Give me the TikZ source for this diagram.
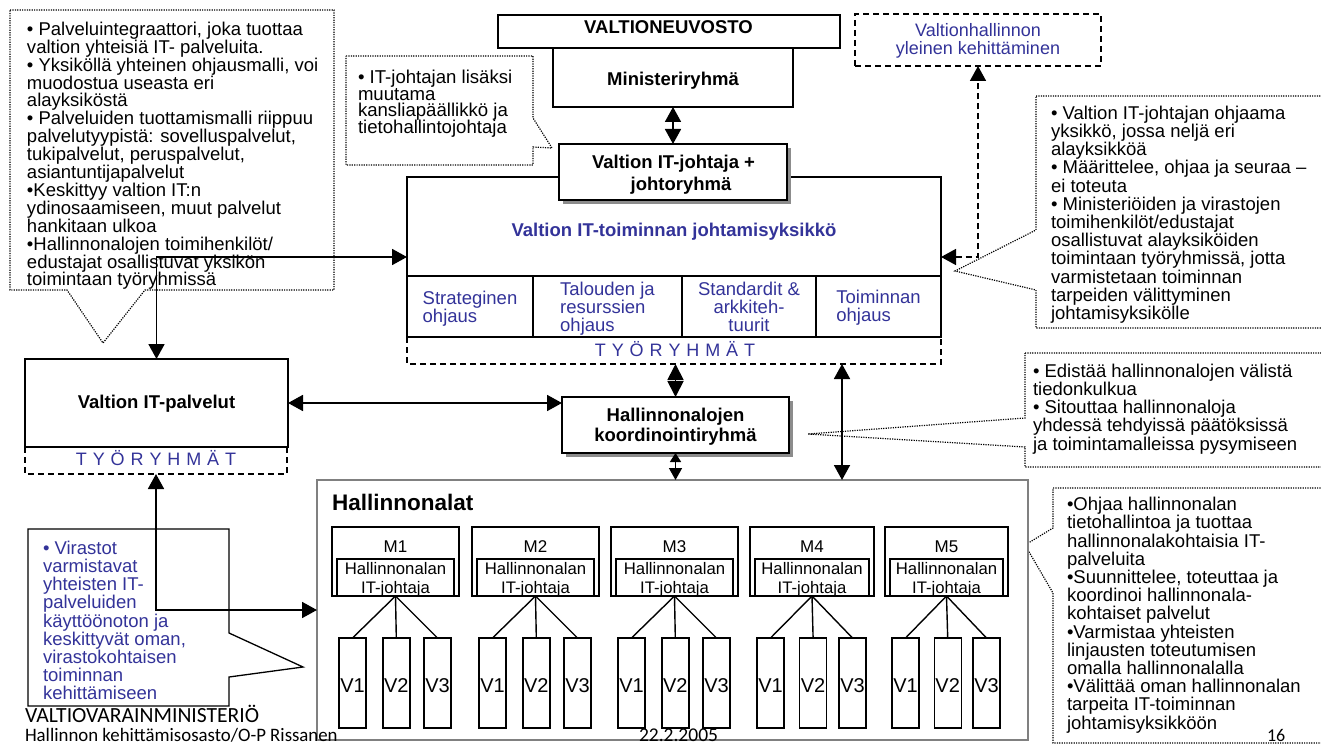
\documentclass[tikz,border=0pt]{standalone}
\usepackage{fontspec}
\setmainfont{Liberation Sans}
\newfontfamily\footfont{Carlito}
\newfontfamily\footfontn{Carlito}[FakeStretch=0.99]
\usetikzlibrary{arrows.meta,shadows,calc}
\definecolor{tblue}{RGB}{51,51,153}
\definecolor{hgray}{RGB}{128,128,128}
\newcommand\fsz[2]{\fontsize{#1}{#2}\selectfont\lineskiplimit=-100pt\lineskip=0pt}
\newcommand\tp{\rule{0pt}{14pt}}
\newcommand\tyo{T\hspace{5.9pt}Y\hspace{5.9pt}Ö\hspace{5.9pt}R\hspace{5.9pt}Y\hspace{5.9pt}H\hspace{5.9pt}M\hspace{5.9pt}Ä\hspace{5.9pt}T}
\begin{document}
\begin{tikzpicture}[x=1pt,y=-1pt,
  box/.style={draw, line width=2pt, fill=white, inner sep=0pt, outer sep=0pt, anchor=north west},
  txt/.style={inner sep=0pt, outer sep=0pt},
  bul/.style={txt, anchor=north west, align=left, font=\fsz{18.5}{18.2}},
  dot/.style={line width=1.2pt, dash pattern=on 1.2pt off 1.2pt, fill=white},
  dsh/.style={line width=1.6pt, dash pattern=on 6pt off 4pt},
  darr/.style={line width=1.8pt, {Triangle[length=15pt,width=16pt]}-{Triangle[length=15pt,width=16pt]}},
  shd/.style={drop shadow={shadow xshift=4pt, shadow yshift=-4pt, fill=black!45, opacity=1}},
]
\useasboundingbox (0,0) rectangle (1321,746);
\clip (0,0) rectangle (1321,746);
\fill[white] (0,0) rectangle (1321,746);

% ---------- callouts ----------
\draw[dot] (10,10) -- (334,10) -- (334,290) -- (145,290) -- (103,343) -- (67,290) -- (10,290) -- cycle;
\node[bul, font=\fsz{18.5}{17.9}] (tltext) at (27,21.3) {\tp• Palveluintegraattori, joka tuottaa\\valtion yhteisiä IT- palveluita.\\• Yksiköllä yhteinen ohjausmalli, voi\\muodostua useasta eri\\alayksiköstä\\• Palveluiden tuottamismalli riippuu\\palvelutyypistä: sovelluspalvelut,\\tukipalvelut, peruspalvelut,\\asiantuntijapalvelut\\•Keskittyy valtion IT:n\\ydinosaamiseen, muut palvelut\\hankitaan ulkoa\\•Hallinnonalojen toimihenkilöt/\\edustajat osallistuvat yksikön\\toimintaan työryhmissä};

\draw[dot] (346,56) -- (533,56) -- (533,118) -- (552,148) -- (533,147) -- (533,165) -- (346,165) -- cycle;
\node[bul, font=\fsz{18.6}{16.6}] (ittext) at (358,69.5) {\rule{0pt}{14pt}• IT-johtajan lisäksi\\muutama\\kansliapäällikkö ja\\tietohallintojohtaja};

\draw[dot] (1036,96) -- (1330,96) -- (1330,328) -- (1036,328) -- (1036,290) -- (955,271) -- (1036,230) -- cycle;
\node[bul] (r1text) at (1051,105.3) {\tp• Valtion IT-johtajan ohjaama\\yksikkö, jossa neljä eri\\alayksikköä\\• Määrittelee, ohjaa ja seuraa –\\ei toteuta\\• Ministeriöiden ja virastojen\\toimihenkilöt/edustajat\\osallistuvat alayksiköiden\\toimintaan työryhmissä, jotta\\varmistetaan toiminnan\\tarpeiden välittyminen\\johtamisyksikölle};

\draw[dot] (1025,353) -- (1330,353) -- (1330,467) -- (1025,467) -- (1025,447) -- (808,434) -- (1025,418) -- cycle;
\node[bul] (r2text) at (1033,363.3) {\tp• Edistää hallinnonalojen välistä\\tiedonkulkua\\• Sitouttaa hallinnonaloja\\yhdessä tehdyissä päätöksissä\\ja toimintamalleissa pysymiseen};

\draw[dot] (1053,488) -- (1330,488) -- (1330,743) -- (1053,743) -- (1053,593) -- (1025,545) -- (1053,528) -- cycle;
\node[bul] (brtext) at (1067,496.7) {\tp•Ohjaa hallinnonalan\\tietohallintoa ja tuottaa\\hallinnonalakohtaisia IT-\\palveluita\\•Suunnittelee, toteuttaa ja\\koordinoi hallinnonala-\\kohtaiset palvelut\\•Varmistaa yhteisten\\linjausten toteutumisen\\omalla hallinnonalalla\\•Välittää oman hallinnonalan\\tarpeita IT-toiminnan\\johtamisyksikköön};

\draw[line width=1.3pt, fill=white] (28,529) -- (229,529) -- (229,633) -- (303,667) -- (229,677) -- (229,706) -- (28,706) -- cycle;
\node[bul, text=tblue] (bltext) at (43,540.3) {\tp• Virastot\\varmistavat\\yhteisten IT-\\palveluiden\\käyttöönoton ja\\keskittyvät oman,\\virastokohtaisen\\toiminnan\\kehittämiseen};

% ---------- top boxes ----------
\node[box, minimum width=342pt, minimum height=33pt] (vn) at (498,15) {};
\node[txt, anchor=base, font=\fsz{18.5}{20}\bfseries] (vnt) at (668.5,33.3) {VALTIONEUVOSTO};
\node[box, minimum width=240pt, minimum height=59pt] (min) at (553,48) {};
\node[txt, anchor=base, font=\fsz{18.5}{20}\bfseries] (mint) at (673,86) {Ministeriryhmä};

\node[box, dsh, minimum width=246pt, minimum height=52pt] (vh) at (855,14) {};
\node[txt, anchor=north, align=center, text=tblue, font=\fsz{18}{18.3}] (vht) at (978,22.7) {\tp Valtionhallinnon\\yleinen kehittäminen};

% ---------- main unit ----------
\node[box, line width=2.5pt, minimum width=534pt, minimum height=160pt] (main) at (407,177) {};
\node[box, minimum width=126pt, minimum height=61pt] (c1) at (407,276) {};
\node[box, minimum width=149pt, minimum height=61pt] (c2) at (533,276) {};
\node[box, minimum width=134pt, minimum height=61pt] (c3) at (682,276) {};
\node[box, minimum width=125pt, minimum height=61pt] (c4) at (816,276) {};
\node[txt, anchor=base, text=tblue, font=\fsz{18.5}{20}\bfseries] (mainT) at (674,236.5) {Valtion IT-toiminnan johtamisyksikkö};
\node[txt, anchor=north, align=left, text=tblue, font=\fsz{18.5}{18}] (c1t) at (470,290) {\tp Strateginen\\ohjaus};
\node[txt, anchor=north, align=left, text=tblue, font=\fsz{18.5}{18}] (c2t) at (607.5,281) {\tp Talouden ja\\resurssien\\ohjaus};
\node[txt, anchor=north, align=center, text=tblue, font=\fsz{18.5}{18}] (c3t) at (749,281) {\tp Standardit \&\\arkkiteh-\\tuurit};
\node[txt, anchor=north, align=left, text=tblue, font=\fsz{18.5}{18}] (c4t) at (878.5,289.5) {\tp Toiminnan\\ohjaus};

\node[txt, minimum width=534pt, minimum height=27pt, anchor=north west] (wg1) at (407,337) {};
\draw[dsh] (wg1.north west) -- (wg1.south west) -- (wg1.south east) -- (wg1.north east);
\node[txt, anchor=base, text=tblue, font=\fsz{18}{20}] (wg1t) at (675,356.7) {\tyo};

\node[box, shd, minimum width=228pt, minimum height=56pt] (itj) at (559,144) {};
\node[txt, anchor=north, align=center, font=\fsz{18.5}{22}\bfseries] (itjt) at (681,154.5) {\tp Valtion IT-johtaja +\rule{15pt}{0pt}\\johtoryhmä};

% ---------- IT-palvelut ----------
\node[box, line width=2.5pt, minimum width=263pt, minimum height=88pt] (itp) at (25,359) {};
\node[txt, anchor=base, font=\fsz{18.5}{20}\bfseries] (itpt) at (156.5,408) {Valtion IT-palvelut};
\node[txt, minimum width=262pt, minimum height=27pt, anchor=north west] (wg2) at (25,447) {};
\draw[dsh] (wg2.north west) -- (wg2.south west) -- (wg2.south east) -- (wg2.north east);
\node[txt, anchor=base, text=tblue, font=\fsz{18}{20}] (wg2t) at (156,465.7) {\tyo};

% ---------- koordinointiryhmä ----------
\node[box, shd, minimum width=227pt, minimum height=56pt] (koord) at (562,397) {};
\node[txt, anchor=north, align=center, font=\fsz{18.5}{19.5}\bfseries] (koordt) at (675.5,407.5) {\tp Hallinnonalojen\\koordinointiryhmä};

% ---------- Hallinnonalat ----------
\node[box, draw=hgray, line width=1.3pt, minimum width=711pt, minimum height=260pt] (hall) at (317,480) {};
\node[txt, anchor=base west, font=\fsz{22.5}{24}\bfseries] (hallt) at (332,510) {Hallinnonalat};

\foreach \i/\x/\w in {1/332/127,2/472/127,3/611/127,4/750/124,5/885/123}{
  \node[box, line width=1.4pt, minimum width=\w pt, minimum height=69pt] (m\i) at (\x,527) {};
  \node[txt, anchor=base, font=\fsz{17}{19}] (ml\i) at (\x+\w/2,552.3) {M\i};
  \node[box, line width=1.4pt, minimum width=\w pt-10pt, minimum height=37pt] (mi\i) at (\x+5,559) {};
  \node[txt, anchor=north, align=center, font=\fsz{16.7}{19}] (mt\i) at (\x+\w/2,561.3) {\rule{0pt}{13pt}Hallinnonalan\\IT-johtaja};
  \foreach \j/\o in {1/7,2/0.4*\w,3/\w-35}{
    \node[box, line width=1.4pt, minimum width=27pt, minimum height=90pt] (v\i\j) at (\x+\o,638) {};
    \node[txt, anchor=base, font=\fsz{20}{20}] (vt\i\j) at (\x+\o+13.5,692) {V\j};
    \draw[line width=1.4pt] (mi\i.south) -- (v\i\j.north);
  }
}

% ---------- connectors ----------
\draw[darr] (min.south) -- (itj.north);
\draw[darr] (itp.north) |- (main.west);
\draw[darr] (itp.east) -- (itp.east -| koord.west);
\draw[darr, dsh] (main.east) -| (vh.south);
\draw[line width=1.8pt, {Triangle[length=16pt,width=16pt]}-{Triangle[length=16pt,width=16pt]}] (wg1.south -| koord.north) -- (koord.north);
\draw[line width=1.5pt, {Triangle[length=9pt,width=11pt]}-{Triangle[length=12pt,width=13pt]}] (koord.south) -- (koord.south |- hall.north);
\coordinate (lx) at (842,0);
\draw[darr] (wg1.south -| lx) -- (hall.north -| lx);
\draw[darr] (wg2.south) |- (hall.west);

% ---------- footer ----------
\node[txt, anchor=base west, font=\footfont\fsz{21.6}{22}] (f1) at (25,722.5) {VALTIOVARAINMINISTERIÖ};
\node[txt, anchor=base west, font=\footfontn\fsz{19}{22}] (f2) at (25,741.5) {Hallinnon kehittämisosasto/O-P Rissanen};
\node[txt, anchor=base west, font=\footfont\fsz{19.5}{22}] (f3) at (639,741.5) {22.2.2005};
\node[txt, anchor=base west, font=\footfont\fsz{18}{20}] (f4) at (1267,741.5) {16};
\end{tikzpicture}
\end{document}
